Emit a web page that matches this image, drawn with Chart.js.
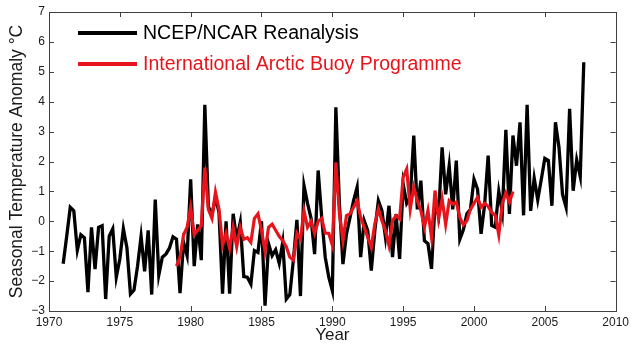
<!DOCTYPE html>
<html>
<head>
<meta charset="utf-8">
<script src="https://cdn.jsdelivr.net/npm/chart.js@4/dist/chart.umd.min.js"></script>
<style>
  html, body { margin: 0; padding: 0; background: #fff; }
  #c { display: block; }
</style>
</head>
<body>
<canvas id="c" width="633" height="347"></canvas>
<script>
// Seasonal series: one value per season (quarter year)
const seasonStep = 0.25;

const ncepLabel = 'NCEP/NCAR Reanalysis';
const ncepStart = 1971.0;
const ncepValues = [
  -1.42, -0.5, 0.47, 0.35,     // 1971
  -0.97, -0.45, -0.55, -2.37,  // 1972
  -0.2, -1.6, -0.2, -0.15,     // 1973
  -2.6, -0.5, -0.25, -1.87,    // 1974
  -1.26, -0.25, -0.88, -2.43,  // 1975
  -2.3, -1.5, -0.5, -1.67,     // 1976
  -0.3, -2.45, 0.73, -1.8,     // 1977
  -1.2, -1.1, -0.9, -0.52,     // 1978
  -0.6, -2.4, -0.7, -1.15,     // 1979
  1.4, -1.5, -0.1, -1.3,       // 1980
  3.9, 0.5, 0.2, 0.8,          // 1981
  0.3, -2.42, 0.0, -2.42,      // 1982
  0.25, -0.6, -0.03, -1.85,    // 1983
  -1.87, -2.1, -0.98, -1.04,   // 1984
  0.0, -2.82, -0.75, -1.15,    // 1985
  -0.95, -1.4, -0.7, -2.6,     // 1986
  -2.45, -1.3, 0.05, -2.5,     // 1987
  1.2, 0.6, 0.1, -1.1,         // 1988
  1.7, 0.13, -1.2, -1.87,      // 1989
  -2.32, 3.81, 0.58, -1.43,    // 1990
  -0.42, 0.13, 0.69, 1.14,     // 1991
  -1.2, 0.02, -0.31, -1.65,    // 1992
  -0.31, 0.69, 0.36, -0.53,    // 1993
  0.52, -1.2, 0.24, -1.26,     // 1994
  1.25, 0.6, 0.8, 2.87,        // 1995
  0.4, 1.36, -0.65, -0.75,     // 1996
  -1.59, 0.6, 0.2, 2.47,       // 1997
  0.9, 1.86, 0.4, 2.03,        // 1998
  -0.6, -0.28, 0.25, 0.4,      // 1999
  1.41, 1.08, -0.42, 0.55,     // 2000
  2.2, -0.14, -0.2, 1.0,       // 2001
  0.3, 3.06, 0.25, 2.87,       // 2002
  1.86, 3.31, 0.2, 3.9,        // 2003
  0.35, 1.44, 0.72, 1.4,       // 2004
  2.1, 2.03, 0.52, 3.31,       // 2005
  2.47, 0.9, 0.47, 3.76,       // 2006
  1.02, 2.05, 1.5, 5.32        // 2007
];

const buoyLabel = 'International Arctic Buoy Programme';
const buoyStart = 1979.0;
const buoyValues = [
  -1.5, -1.2, -0.45, -0.2,     // 1979
  0.47, -0.45, -0.3, -0.15,    // 1980
  1.8, 0.4, 0.1, 0.97,         // 1981
  0.4, -0.8, -0.4, -0.9,       // 1982
  -0.2, -0.85, -0.2, -0.6,     // 1983
  -0.55, -0.7, 0.1, 0.25,      // 1984
  -0.3, -1.0, -0.2, -0.1,      // 1985
  -0.3, -0.5, -0.65, -0.85,    // 1986
  -1.2, -1.3, -0.4, -0.6,      // 1987
  0.35, -0.2, 0.0, -0.4,       // 1988
  0.0, 0.1, -0.4, -0.4,        // 1989
  -0.8, 1.97, 0.25, -0.64,     // 1990
  0.19, 0.25, 0.47, 0.69,      // 1991
  0.13, -0.2, -0.53, -0.87,    // 1992
  -0.09, 0.41, 0.02, -0.31,    // 1993
  -0.81, 0.02, 0.19, 0.08,     // 1994
  1.47, 1.75, 0.41, 1.14,      // 1995
  0.69, 0.36, -0.2, 0.36,      // 1996
  -0.53, 1.03, 0.08, 0.75,     // 1997
  -0.1, 0.69, 0.58, 0.64,      // 1998
  0.13, -0.12, 0.02, 0.4,      // 1999
  0.6, 0.8, 0.47, 0.6,         // 2000
  0.5, 0.3, 0.2, -0.45,        // 2001
  0.6, 0.95, 0.64, 1.0         // 2002
];

const xTicks = [1970, 1975, 1980, 1985, 1990, 1995, 2000, 2005, 2010];
const yTicks = [-3, -2, -1, 0, 1, 2, 3, 4, 5, 6, 7];

const xTitle = 'Year';
const yTitle = 'Seasonal Temperature Anomaly °C';

const FONT = '"Liberation Sans", Arial, Helvetica, sans-serif';
const BLACK = '#000000';
const RED = '#e8141b';

function toPoints(start, values){
  return values.map((v, i) => ({ x: start + i * seasonStep, y: v }));
}

function fmt(v){
  return v < 0 ? '\u2212' + Math.abs(v) : String(v);
}

// box around the axes with inward ticks on all four sides
const framePlugin = {
  id: 'frame',
  afterDraw(chart){
    const { ctx, chartArea: a, scales } = chart;
    const tl = 5;
    ctx.save();
    ctx.strokeStyle = '#404040';
    ctx.lineWidth = 1;
    ctx.strokeRect(Math.round(a.left) + 0.5, Math.round(a.top) + 0.5,
      Math.round(a.right - a.left), Math.round(a.bottom - a.top));
    ctx.beginPath();
    xTicks.forEach(t => {
      const px = Math.round(scales.x.getPixelForValue(t)) + 0.5;
      ctx.moveTo(px, a.bottom); ctx.lineTo(px, a.bottom - tl);
      ctx.moveTo(px, a.top); ctx.lineTo(px, a.top + tl);
    });
    yTicks.forEach(t => {
      const py = Math.round(scales.y.getPixelForValue(t)) + 0.5;
      ctx.moveTo(a.left, py); ctx.lineTo(a.left + tl, py);
      ctx.moveTo(a.right, py); ctx.lineTo(a.right - tl, py);
    });
    ctx.stroke();
    ctx.restore();
  }
};

// legend drawn inside the plot, matlab style
const legendPlugin = {
  id: 'insideLegend',
  afterDatasetsDraw(chart){
    const { ctx } = chart;
    const items = [ncepLabel, buoyLabel].map(l => chart.data.datasets.find(d => d.label === l));
    ctx.save();
    ctx.font = '19.5px ' + FONT;
    ctx.textBaseline = 'middle';
    items.forEach((ds, i) => {
      const y = 33 + i * 31;
      ctx.strokeStyle = ds.borderColor;
      ctx.lineWidth = 3.8;
      ctx.beginPath();
      ctx.moveTo(78, y); ctx.lineTo(137, y);
      ctx.stroke();
      ctx.fillStyle = ds.borderColor;
      ctx.fillText(ds.label, 143, y + 1);
    });
    ctx.restore();
  }
};

new Chart(document.getElementById('c'), {
  type: 'line',
  data: {
    datasets: [
      {
        label: ncepLabel,
        data: toPoints(ncepStart, ncepValues),
        borderColor: BLACK,
        borderWidth: 3.3,
        pointRadius: 0,
        tension: 0,
        order: 2
      },
      {
        label: buoyLabel,
        data: toPoints(buoyStart, buoyValues),
        borderColor: RED,
        borderWidth: 3.2,
        pointRadius: 0,
        tension: 0,
        order: 1
      }
    ]
  },
  options: {
    responsive: false,
    animation: false,
    devicePixelRatio: 1,
    layout: { padding: { top: 12, right: 11, left: 0, bottom: 0 } },
    plugins: { legend: { display: false }, tooltip: { enabled: false } },
    scales: {
      x: {
        type: 'linear',
        min: 1970, max: 2010,
        afterBuildTicks: s => { s.ticks = xTicks.map(v => ({ value: v })); },
        afterFit: s => { s.height = 36; },
        grid: { display: false, drawTicks: false },
        border: { display: false },
        ticks: {
          padding: 4,
          maxRotation: 0,
          autoSkip: false,
          color: '#1a1a1a',
          font: { family: FONT, size: 12 },
          callback: v => String(v)
        },
        title: {
          display: true,
          text: xTitle,
          color: '#1a1a1a',
          font: { family: FONT, size: 17 },
          padding: { top: 0, bottom: 1 }
        }
      },
      y: {
        type: 'linear',
        min: -3, max: 7,
        afterBuildTicks: s => { s.ticks = yTicks.map(v => ({ value: v })); },
        afterFit: s => { s.width = 49; },
        grid: { display: false, drawTicks: false },
        border: { display: false },
        ticks: {
          padding: 4,
          autoSkip: false,
          color: '#1a1a1a',
          font: { family: FONT, size: 12 },
          callback: v => fmt(v)
        },
        title: {
          display: true,
          text: yTitle,
          color: '#1a1a1a',
          font: { family: FONT, size: 17.5 },
          padding: { top: 7, bottom: 0 }
        }
      }
    }
  },
  plugins: [framePlugin, legendPlugin]
});
</script>
</body>
</html>
